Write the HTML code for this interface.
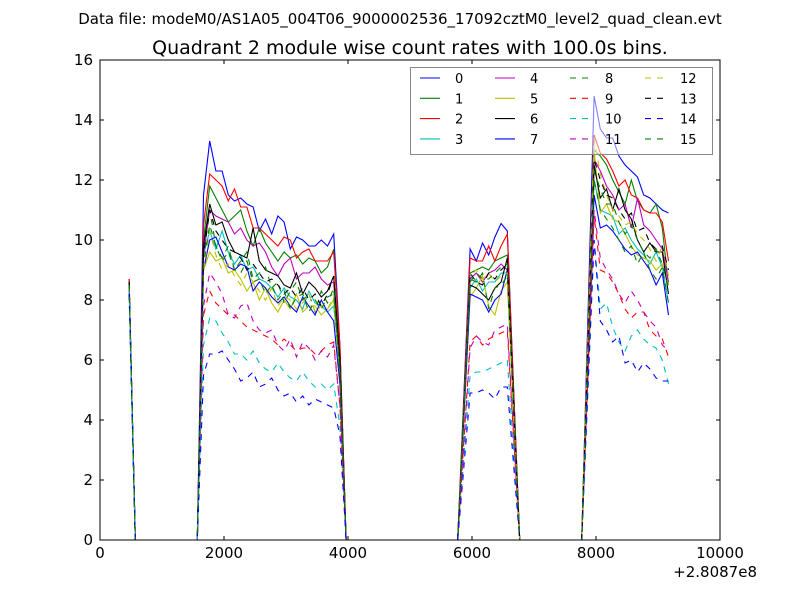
<!DOCTYPE html>
<html><head><meta charset="utf-8"><style>
body{margin:0;background:#fff;}
svg{display:block;font-family:"DejaVu Sans","Liberation Sans",sans-serif;}
</style></head><body>
<svg id="chart" width="800" height="600" viewBox="0 0 800 600">
<rect width="800" height="600" fill="#fff"/>
<text x="400" y="24" font-size="15" text-anchor="middle">Data file: modeM0/AS1A05_004T06_9000002536_17092cztM0_level2_quad_clean.evt</text>
<text x="410" y="54" font-size="19" text-anchor="middle">Quadrant 2 module wise count rates with 100.0s bins.</text>
<g id="plot"></g>
<g id="axes"></g>
<g id="legend"></g>
</svg>
<script>
const xTicks=[0,2000,4000,6000,8000,10000];
const yTicks=[0,2,4,6,8,10,12,14,16];
const offsetLabel="+2.8087e8";
const seg1Times=[470,570];
const seg2Times=[1570,1670,1770,1870,1970,2070,2170,2270,2370,2470,2570,2670,2770,2870,2970,3070,3170,3270,3370,3470,3570,3670,3770,3870,3970];
const seg3Times=[5770,5970,6070,6170,6270,6370,6470,6570,6770];
const seg4Times=[7770,7970,8070,8170,8270,8370,8470,8570,8670,8770,8870,8970,9070,9170];
const seriesNames=["0","1","2","3","4","5","6","7","8","9","10","11","12","13","14","15"];
const seg1=[8.7,8.6,8.7,8.5,8.6,8.5,8.6,8.5,8.6,8.4,8.3,8.5,8.5,8.6,8.2,8.5];
const seg2=[
[11.5,13.3,12.3,12.3,11.5,11.3,11.4,11.2,11.1,10.3,10.7,10.2,10.8,10.6,9.7,10.1,10.0,9.8,9.8,10.0,9.8,10.2,6.5],
[10,11.8,11.4,11.0,10.6,10.8,11.0,10.3,9.8,10.4,9.9,9.6,9.3,9.6,9.4,9.5,9.2,9.4,9.3,8.9,9.1,9.7,6.3],
[10.5,12.2,12.0,11.8,11.3,11.7,11.1,11.1,10.4,10.4,10.2,10.0,9.8,10.1,10.0,9.4,9.6,9.7,9.3,9.3,9.3,9.6,6.5],
[9.5,10.3,9.7,10.3,9.6,9.2,9.5,9.0,9.1,8.7,8.6,8.4,8.1,8.4,8.1,8.0,7.7,8.3,7.9,7.8,7.6,7.8,5.8],
[9.5,11.0,10.8,10.7,10.6,10.2,10.4,10.0,9.8,9.9,9.6,9.1,8.8,9.2,9.4,8.7,8.9,8.9,9.1,8.7,8.5,8.6,5.8],
[9.0,9.6,9.3,9.4,8.9,9.0,8.7,8.3,8.6,8.0,8.4,7.9,7.6,8.0,7.7,8.2,7.6,7.8,7.8,7.5,7.7,8.0,5.5],
[9.8,11.2,10.5,10.6,10.0,9.6,9.5,9.4,10.4,9.3,9.0,8.9,8.8,8.5,8.4,8.9,8.2,8.6,8.4,8.1,8.3,8.8,6.0],
[9.0,10.0,10.1,9.6,9.1,9.0,9.2,9.1,8.3,8.6,8.4,8.1,7.9,8.1,7.8,7.6,8.1,7.8,7.5,8.0,7.6,7.3,5.2],
[9.5,11.0,9.8,9.4,9.8,9.0,9.3,9.6,8.7,8.9,9.1,8.4,8.6,7.9,8.3,8.6,8.0,8.2,7.6,8.3,7.9,8.4,5.5],
[7.5,8.3,7.9,7.7,7.5,7.5,7.3,7.1,7.0,6.9,6.8,6.7,6.5,6.7,6.5,6.3,6.4,6.4,6.2,6.3,6.5,6.6,4.5],
[6.5,7.4,7.3,6.9,6.6,6.2,6.2,6.0,6.3,5.9,5.7,5.6,5.9,5.6,5.4,5.3,5.6,5.3,5.1,5.2,5.0,5.2,3.8],
[7.8,8.9,8.6,8.2,7.5,7.4,7.8,7.9,7.3,7.0,6.9,7.0,6.5,6.3,6.7,6.1,6.6,6.4,6.0,6.3,6.1,6.5,4.5],
[9.0,10.3,9.5,9.0,9.2,8.8,8.5,8.9,8.6,8.3,8.0,8.4,7.8,8.1,8.0,7.7,7.9,8.2,7.6,7.8,7.7,8.1,5.8],
[9.5,11.0,10.3,10.0,9.7,9.6,9.4,9.0,9.2,8.9,8.6,8.7,8.5,8.2,8.4,8.1,8.4,8.0,8.2,7.8,8.2,8.8,6.0],
[5.5,6.2,6.2,6.3,6.0,5.7,5.3,5.4,5.6,5.1,5.2,5.4,5.0,4.8,4.9,4.6,4.8,4.5,4.7,4.6,4.5,4.4,3.5],
[9.2,10.5,9.8,9.3,9.6,9.0,8.9,9.3,8.6,8.7,8.2,8.5,8.0,8.3,7.7,8.1,8.2,7.6,8.0,7.7,8.1,8.2,5.6]];
const seg3=[
[9.7,9.3,9.9,9.5,10.1,10.55,10.3],[8.9,9.0,9.1,9.0,9.3,9.4,9.5],[9.4,9.3,9.3,9.8,9.3,9.8,10.2],
[8.4,8.7,8.3,8.6,8.6,8.9,8.9],[8.7,8.9,8.6,8.9,9.0,9.2,9.0],[8.1,8.4,8.8,7.8,7.5,8.3,8.6],
[8.5,8.4,8.2,8.0,8.4,8.6,9.4],[8.2,8.1,8.0,7.6,8.0,8.2,9.0],[8.7,8.6,8.9,7.7,8.4,8.5,8.8],
[6.6,6.8,6.5,6.7,6.8,6.9,7.0],[5.5,5.6,5.6,5.7,5.8,5.9,6.0],[6.4,6.8,6.6,6.5,7.0,7.1,7.2],
[8.8,9.0,8.7,8.9,8.6,8.8,8.9],[8.9,8.6,8.5,8.9,8.7,9.0,9.2],[4.9,4.9,5.0,4.9,4.7,5.1,5.1],
[8.6,8.9,8.7,8.7,8.9,9.1,9.2]];
const seg4=[
[14.8,13.7,13.4,13.4,12.8,12.5,12.3,12.1,11.5,11.4,11.2,11.0,10.9],
[13.0,12.8,12.5,12.0,11.6,11.2,12.0,11.3,11.0,10.9,11.2,10.4,8.5],
[13.5,12.9,12.7,12.3,11.8,12.0,11.5,11.4,11.0,10.9,10.9,10.6,9.3],
[12.0,11.0,10.9,10.8,10.2,10.4,10.0,9.7,9.5,9.2,9.6,9.1,7.9],
[12.7,12.3,11.8,11.5,11.0,11.2,10.4,11.4,10.5,10.3,10.0,9.7,8.6],
[13.0,10.9,11.2,10.7,10.6,10.2,9.8,9.5,9.4,9.3,9.0,9.2,8.5],
[12.5,11.4,11.7,11.0,11.7,11.0,10.7,10.0,9.6,9.9,9.6,9.6,8.2],
[11.5,10.4,10.5,10.3,10.0,9.7,9.5,9.6,9.3,9.0,8.5,8.9,7.5],
[12.0,11.0,10.7,10.4,10.0,9.6,9.8,9.2,9.6,9.0,8.7,9.1,7.9],
[10.8,9.0,8.9,8.6,8.2,7.7,7.4,7.6,7.6,7.0,6.8,6.7,6.1],
[10.0,7.7,7.9,7.1,6.6,6.3,6.8,7.0,6.7,6.5,6.4,6.0,5.2],
[11.0,9.4,9.0,8.7,8.2,7.9,8.3,8.0,7.6,7.3,7.1,6.5,6.3],
[13.4,12.2,11.5,11.0,10.8,10.5,10.6,10.2,10.0,9.7,9.3,9.8,8.8],
[12.7,12.0,11.5,11.4,11.0,10.7,10.9,10.3,10.4,9.9,9.7,9.8,9.0],
[10.0,7.3,7.0,6.6,6.8,5.9,6.0,5.6,5.9,5.7,5.4,5.3,5.3],
[12.3,11.7,11.2,11.2,10.6,10.2,10.5,10.0,9.6,9.4,9.7,9.2,8.4]];

const NS="http://www.w3.org/2000/svg";
const X0=100,X1=720,Y0=540,Y1=60;
function sx(v){return X0+(v-0)/(10000-0)*(X1-X0);}
function sy(v){return Y0-(v-0)/(16-0)*(Y0-Y1);}
const colors=["#0000ff","#008000","#ff0000","#00bfbf","#bf00bf","#bfbf00","#000000"];
function styleOf(i){return {c:colors[i%7], dash:i>=8};}
function mk(tag,attrs,parent){const e=document.createElementNS(NS,tag);for(const k in attrs)e.setAttribute(k,attrs[k]);parent.appendChild(e);return e;}
const plot=document.getElementById('plot');
const clip=mk('clipPath',{id:'clp'},plot);
mk('rect',{x:X0,y:Y1,width:X1-X0,height:Y0-Y1},clip);
const pg=mk('g',{'clip-path':'url(#clp)'},plot);
for(let i=0;i<seriesNames.length;i++){
  const pts=[];
  pts.push([seg1Times[0],seg1[i]]);pts.push([seg1Times[1],0]);
  pts.push([seg2Times[0],0]);
  seg2[i].forEach((v,k)=>pts.push([seg2Times[k+1],v]));
  pts.push([seg2Times[seg2Times.length-1],0]);
  pts.push([seg3Times[0],0]);
  seg3[i].forEach((v,k)=>pts.push([seg3Times[k+1],v]));
  pts.push([seg3Times[seg3Times.length-1],0]);
  pts.push([seg4Times[0],0]);
  seg4[i].forEach((v,k)=>pts.push([seg4Times[k+1],v]));
  const st=styleOf(i);
  const p=mk('polyline',{points:pts.map(q=>sx(q[0]).toFixed(1)+','+sy(q[1]).toFixed(1)).join(' '),fill:'none',stroke:st.c,'stroke-width':1.1},pg);
  if(st.dash)p.setAttribute('stroke-dasharray','6,6');
  
  
}
const ax=document.getElementById('axes');
const frame=mk('rect',{x:X0,y:Y1,width:X1-X0,height:Y0-Y1,fill:'none',stroke:'#000','stroke-width':1},ax);


xTicks.forEach(t=>{
  const x=sx(t);
  mk('line',{x1:x,y1:Y0,x2:x,y2:Y0-4,stroke:'#000'},ax);
  mk('line',{x1:x,y1:Y1,x2:x,y2:Y1+4,stroke:'#000'},ax);
  const tx=mk('text',{x:x,y:Y0+18,'font-size':15,'text-anchor':'middle'},ax);
  tx.textContent=t;
  
  
});
yTicks.forEach(t=>{
  const y=sy(t);
  mk('line',{x1:X0,y1:y,x2:X0+4,y2:y,stroke:'#000'},ax);
  mk('line',{x1:X1,y1:y,x2:X1-4,y2:y,stroke:'#000'},ax);
  const tx=mk('text',{x:X0-7,y:y+5,'font-size':15,'text-anchor':'end'},ax);
  tx.textContent=t;
  
  
});
const off=mk('text',{x:757,y:577,'font-size':15,'text-anchor':'end'},ax);
off.textContent=offsetLabel;


const lg=document.getElementById('legend');


mk('rect',{x:410.5,y:67.5,width:302,height:87,fill:'#fff','fill-opacity':0.5,stroke:'#888','stroke-width':1},lg);
for(let i=0;i<seriesNames.length;i++){
  const col=Math.floor(i/4),row=i%4;
  const lx=420+col*75,ly=78+row*20.3;
  const st=styleOf(i);
  const g=mk('g',{},lg);
  
  
  const l=mk('line',{x1:lx,y1:ly,x2:lx+20,y2:ly,stroke:st.c,'stroke-width':1.1},g);
  if(st.dash)l.setAttribute('stroke-dasharray','6,6');
  const t=mk('text',{x:lx+35,y:ly+5,'font-size':13},g);
  t.textContent=seriesNames[i];
}
</script>
</body></html>
